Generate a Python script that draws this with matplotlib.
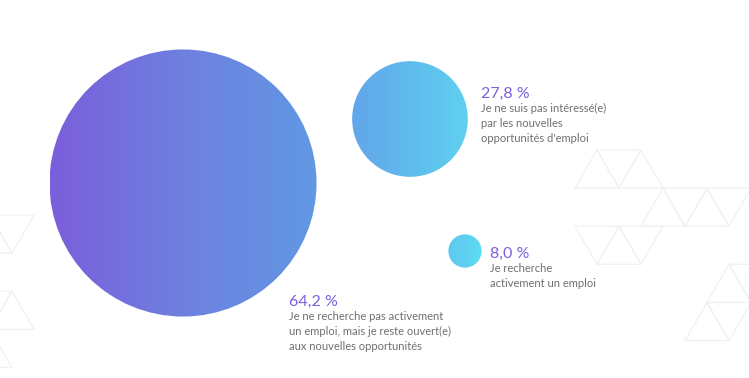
import numpy as np
import matplotlib
matplotlib.use("Agg")
import matplotlib.pyplot as plt
from matplotlib.patches import Circle
from matplotlib.colors import LinearSegmentedColormap

# ---- data ----
values = [64.2, 27.8, 8.0]
pct_labels = ["64,2 %", "27,8 %", "8,0 %"]
descriptions = [
    "Je ne recherche pas activement\nun emploi, mais je reste ouvert(e)\naux nouvelles opportunités",
    "Je ne suis pas intéressé(e)\npar les nouvelles\nopportunités d'emploi",
    "Je recherche\nactivement un emploi",
]

# ---- layout (pixel space) ----
W, H = 749, 378
centers = [(183, 183), (410, 119), (465, 251)]
px_per_pct = 2.08
label_pos = [(289, 302), (481, 94), (490, 254)]

fig = plt.figure(figsize=(W / 100, H / 100), dpi=100)
ax = fig.add_axes([0, 0, 1, 1])
ax.set_xlim(0, W)
ax.set_ylim(H, 0)
ax.axis("off")
fig.patch.set_facecolor("white")

# faint decorative triangular lattice
s = 44.0
h = s * np.sqrt(3) / 2
lc = "#f1f1f1"
def tri(i, j, up=True, x0=575, y0=150):
    x = x0 + i * s / 2
    y = y0 + j * h
    if up:
        pts = [(x, y + h), (x + s / 2, y), (x + s, y + h)]
    else:
        pts = [(x, y), (x + s, y), (x + s / 2, y + h)]
    pts.append(pts[0])
    xs, ys = zip(*pts)
    ax.plot(xs, ys, color=lc, lw=0.9, zorder=0)

for (i, j, up) in [(0, 0, True), (1, 0, False), (2, 0, True), (3, 1, True),
                   (4, 1, False), (5, 1, True), (6, 1, False), (0, 2, False),
                   (1, 2, True), (2, 2, False), (6, 3, True), (7, 3, False),
                   (8, 2, True), (5, 4, True), (6, 4, False)]:
    tri(i, j, up)
for (i, j, up) in [(-1, 0, True), (0, 0, False), (-1, 2, False), (0, 2, True),
                   (-1, 3, True)]:
    tri(i, j, up, x0=-10, y0=215)

# gradient colormap across x (pixel space)
stops = [(50, "#7B5EDB"), (183, "#6E80DF"), (317, "#6198E4"),
         (353, "#62A6EA"), (467, "#5ED0F0"), (482, "#5CDDF2")]
xmin, xmax = stops[0][0], stops[-1][0]
cmap = LinearSegmentedColormap.from_list(
    "grad", [((x - xmin) / (xmax - xmin), c) for x, c in stops])
grad = np.linspace(0, 1, 512).reshape(1, -1)

for (cx, cy), v in zip(centers, values):
    r = v * px_per_pct
    circ = Circle((cx, cy), r, facecolor="none", edgecolor="none")
    ax.add_patch(circ)
    im = ax.imshow(grad, cmap=cmap, aspect="auto",
                   extent=[xmin, xmax, H, 0], zorder=2, interpolation="bilinear")
    im.set_clip_path(circ)

ax.set_xlim(0, W)
ax.set_ylim(H, 0)

for (lx, ly), p, d in zip(label_pos, pct_labels, descriptions):
    ax.text(lx, ly, p, color="#7B5FE0", fontsize=11.5, family="Lato",
            va="center", ha="left", zorder=3)
    ax.text(lx, ly + 9, d, color="#6f6f6f", fontsize=8, family="Lato",
            va="top", ha="left", linespacing=1.45, zorder=3)

fig.savefig("out.png", dpi=100, facecolor="white")
